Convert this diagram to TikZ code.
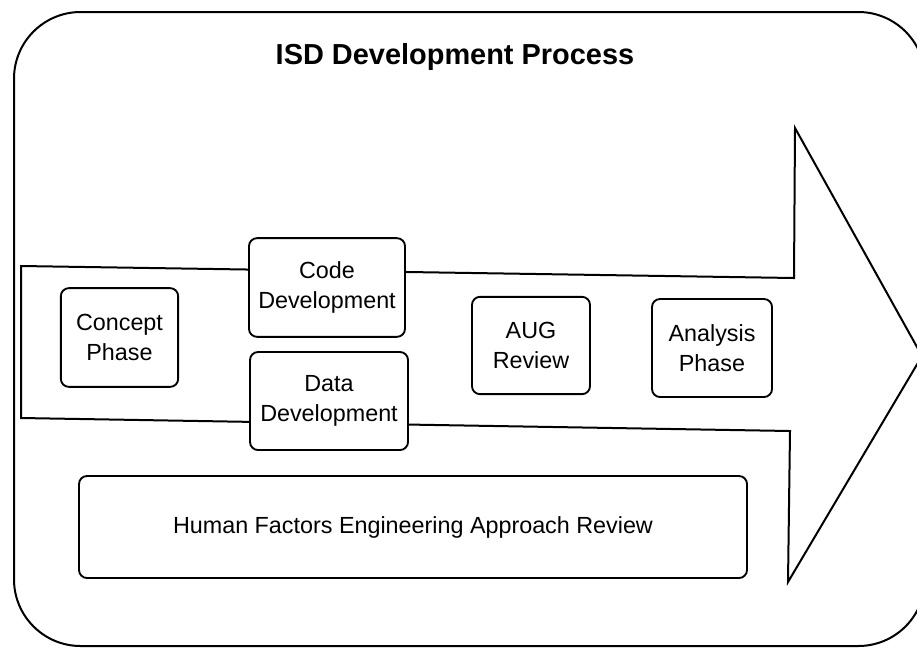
\documentclass[tikz,border=0pt]{standalone}
\usepackage{fontspec}
\setmainfont{Liberation Sans}
\usetikzlibrary{positioning}

\tikzset{
        phase/.style={draw, line width=1.4pt, rounded corners=6pt, fill=white, inner sep=0pt,
                align=center, font=\fontsize{17.5}{22}\selectfont},
        outline/.style={draw, line width=1.5pt, line join=miter}
}

\begin{document}
\begin{tikzpicture}[x=0.75pt, y=-0.75pt]
        \useasboundingbox (0, 0) rectangle (917, 651);
        \clip (0, 0) rectangle (917, 651);

        \draw[outline, rounded corners=50pt] (14, 12) rectangle (925, 646);
        \node[font=\bfseries\fontsize{21.7}{26}\selectfont] at (455, 57)(title){ISD Development Process};

        \draw[outline] (21, 266) -- (794, 278) -- (795, 128) -- (922, 356)
                -- (788, 582) -- (790, 431) -- (21, 418) -- cycle;

        \node[phase, minimum width=88pt, minimum height=74pt] at (119.5, 337.5)(concept){Concept\\Phase};
        \node[phase, minimum width=117pt, minimum height=74pt] at (327, 287.5)(code){Code\\Development};
        \node[phase, minimum width=118.5pt, minimum height=73.5pt] at (329, 401)(data){Data\\Development};
        \node[phase, minimum width=88.5pt, minimum height=73pt] at (531, 345.5)(aug){AUG\\Review};
        \node[phase, minimum width=90pt, minimum height=73.5pt] at (712, 348)(analysis){Analysis\\Phase};
        \node[phase, minimum width=501pt, minimum height=76.5pt] at (413, 527)(hfe){Human Factors Engineering Approach Review};
\end{tikzpicture}
\end{document}
